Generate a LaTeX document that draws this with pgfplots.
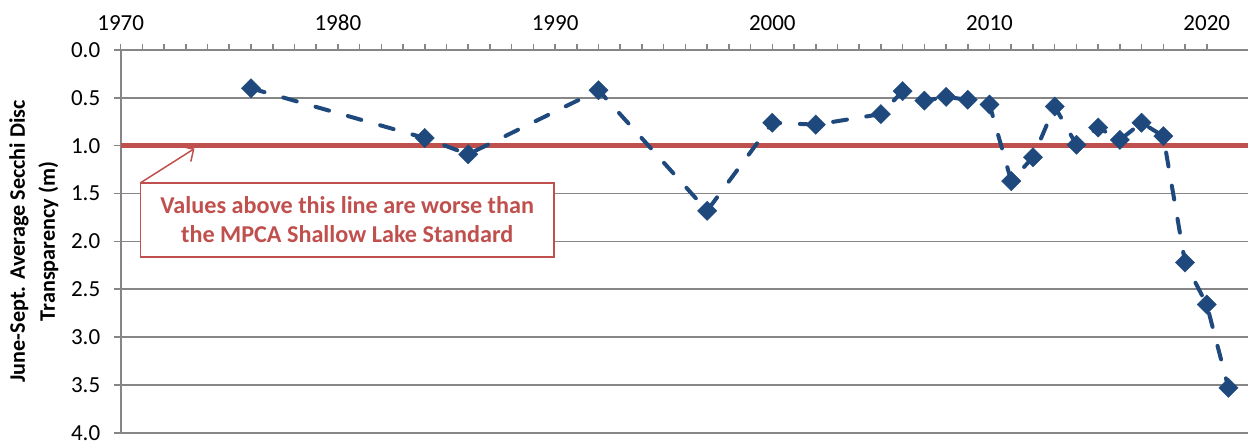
\documentclass[border=0pt]{standalone}
\usepackage{pgfplots}
\pgfplotsset{compat=1.18}
\usepackage{fontspec}
\setmainfont{Carlito}
\usetikzlibrary{arrows.meta}
\definecolor{dblue}{RGB}{31,73,125}
\definecolor{xred}{RGB}{192,80,77}
\definecolor{gridgray}{RGB}{134,134,134}
\begin{document}
\begin{tikzpicture}
\begin{axis}[
  name=ax,
  scale only axis,
  width=563.9pt, height=191.5pt,
  xmin=1970, xmax=2021.9,
  ymin=0, ymax=4,
  y dir=reverse,
  axis x line*=top,
  axis y line*=left,
  axis line style={gridgray, line width=0.9pt},
  xtick={1970,1980,...,2020},
  minor x tick num=9,
  ytick={0,0.5,...,4},
  tick align=outside,
  major tick length=3.2pt,
  minor tick length=3pt,
  every tick/.style={gridgray, line width=0.8pt},
  ymajorgrids,
  major grid style={gridgray, line width=0.9pt},
  yticklabel style={/pgf/number format/fixed, /pgf/number format/fixed zerofill, /pgf/number format/precision=1, xshift=-3.5pt},
  xticklabel style={/pgf/number format/1000 sep={}, yshift=3pt},
  /pgf/number format/assume math mode=true,
  tick label style={font=\fontsize{11.5pt}{13pt}\selectfont, black},
  ylabel={June-Sept. Average Secchi Disc\\Transparency (m)},
  ylabel style={align=center, font=\fontsize{11.1pt}{15pt}\selectfont\bfseries, at={(axis description cs:-0.0769,0.5)}, anchor=center},
  clip=false,
]
\addplot[xred, line width=2.25pt] coordinates {(1970,1) (2021.9,1)};
\addplot[dblue, line width=2pt, dash pattern=on 7pt off 9.8pt, line cap=round,
  mark=square*, mark size=3.4pt, mark options={solid, rotate=45, fill=dblue, draw=dblue, line width=0.2pt}]
  coordinates {
  (1976,0.40) (1984,0.92) (1986,1.09) (1992,0.42) (1997,1.68)
  (2000,0.76) (2002,0.78) (2005,0.67) (2006,0.43) (2007,0.53)
  (2008,0.49) (2009,0.52) (2010,0.57) (2011,1.37) (2012,1.12)
  (2013,0.59) (2014,0.99) (2015,0.81) (2016,0.94) (2017,0.76)
  (2018,0.90) (2019,2.22) (2020,2.66) (2021,3.53)
  };
\draw[xred, line width=0.75pt, -{Straight Barb[length=4.5pt,width=9pt]}] (axis cs:1970.9,1.39) -- (axis cs:1973.4,1.03);
\node[draw=xred, line width=0.7pt, fill=white, minimum width=207pt, minimum height=37pt, inner sep=0pt, align=center,
  text=xred, font=\fontsize{12.1pt}{14.5pt}\selectfont\bfseries] at (axis cs:1980.43,1.775)
  {Values above this line are worse than\\the MPCA Shallow Lake Standard};
\end{axis}
\pgfresetboundingbox
\path[use as bounding box] ([xshift=-60.35pt,yshift=-5.5pt]ax.south west) rectangle ([yshift=25pt]ax.north east);
\end{tikzpicture}
\end{document}
